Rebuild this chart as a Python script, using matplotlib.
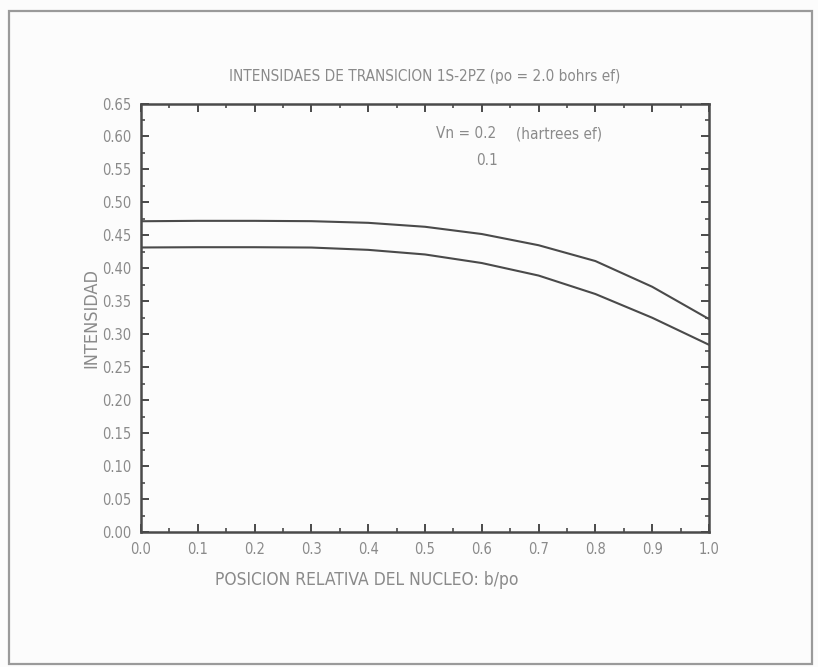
import matplotlib

matplotlib.use("Agg")
import matplotlib.pyplot as plt
from matplotlib.patches import Rectangle
from matplotlib.ticker import MultipleLocator

# values
b_po = [0.0, 0.1, 0.2, 0.3, 0.4, 0.5, 0.6, 0.7, 0.8, 0.9, 1.0]
int_vn02 = [0.4714, 0.472, 0.472, 0.4715, 0.469, 0.463, 0.452, 0.435, 0.411, 0.372, 0.323]
int_vn01 = [0.4316, 0.432, 0.432, 0.4315, 0.428, 0.421, 0.408, 0.389, 0.361, 0.325, 0.284]

TEXT = "#8a8a8a"
LINE = "#4a4a4a"

plt.rcParams["font.family"] = ["DejaVu Sans"]
plt.rcParams["font.stretch"] = "condensed"

fig = plt.figure(figsize=(8.18, 6.67), dpi=100)
fig.patch.set_facecolor("#fcfcfc")

# outer frame of the page
fig.patches.append(Rectangle((9 / 818, 3 / 667), 803 / 818, 653 / 667,
                             transform=fig.transFigure, fill=False,
                             edgecolor="#9a9a9a", linewidth=1.6))

ax = fig.add_axes([141 / 818, 135 / 667, 568 / 818, 428.5 / 667])
ax.set_facecolor("#fcfcfc")
ax.plot(b_po, int_vn02, color=LINE, linewidth=1.5)
ax.plot(b_po, int_vn01, color=LINE, linewidth=1.5)

ax.set_xlim(0, 1.0)
ax.set_ylim(0, 0.65)
ax.xaxis.set_major_locator(MultipleLocator(0.1))
ax.xaxis.set_minor_locator(MultipleLocator(0.05))
ax.yaxis.set_major_locator(MultipleLocator(0.05))
ax.yaxis.set_minor_locator(MultipleLocator(0.025))
ax.xaxis.set_major_formatter(lambda v, p: f"{v:.1f}")
ax.yaxis.set_major_formatter(lambda v, p: f"{v:.2f}")
ax.tick_params(which="both", direction="in", top=True, right=True,
               color=LINE, labelcolor=TEXT, labelsize=10.5)
ax.tick_params(which="major", length=6, width=1.4, pad=7)
ax.tick_params(which="minor", length=3, width=1.2)
for s in ax.spines.values():
    s.set_color(LINE)
    s.set_linewidth(1.8)

ax.set_title("INTENSIDAES DE TRANSICION 1S-2PZ (po = 2.0 bohrs ef)",
             color=TEXT, fontsize=11, pad=16)
ax.set_xlabel("POSICION RELATIVA DEL NUCLEO: b/po", color=TEXT, fontsize=12.5,
              labelpad=10, x=0.398)
ax.set_ylabel("INTENSIDAD", color=TEXT, fontsize=13, labelpad=1)

ax.text(0.52, 0.604, "Vn = 0.2", color=TEXT, fontsize=11, ha="left", va="center")
ax.text(0.66, 0.604, "(hartrees ef)", color=TEXT, fontsize=11, ha="left", va="center")
ax.text(0.59, 0.564, "0.1", color=TEXT, fontsize=11, ha="left", va="center")

fig.savefig("out.png", dpi=100, facecolor=fig.get_facecolor())
